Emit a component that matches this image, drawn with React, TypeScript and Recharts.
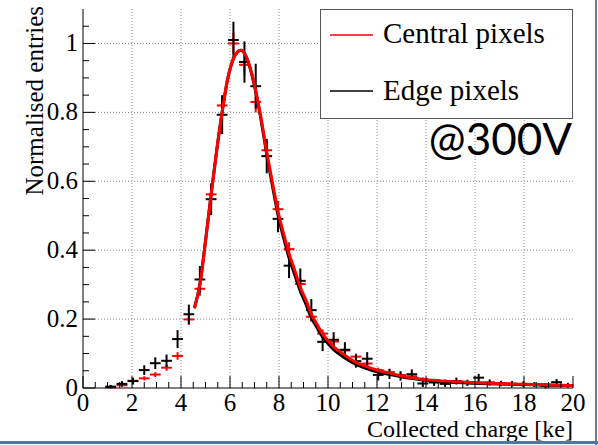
import React from 'react';
import { ComposedChart, Scatter, Line, XAxis, YAxis, CartesianGrid, ErrorBar, Label } from 'recharts';

// bin centres in ke
const BIN_CENTRES = [
  1.13, 1.59, 2.04, 2.5, 2.95, 3.41, 3.86, 4.32, 4.77, 5.23, 5.68, 6.14, 6.59, 7.05,
  7.5, 7.96, 8.41, 8.87, 9.32, 9.78, 10.23, 10.69, 11.14, 11.6, 12.05, 12.51, 12.96,
  13.42, 13.87, 14.33, 14.78, 15.24, 15.69, 16.15, 16.6, 17.06, 17.51, 17.97, 18.42,
  18.88, 19.33, 19.79,
];
const X_HALF_WIDTH = 0.22;

const CENTRAL = [
  0.002, 0.008, 0.021, 0.028, 0.039, 0.059, 0.093, 0.199, 0.288, 0.562, 0.82, 1.0, 0.938,
  0.83, 0.69, 0.519, 0.403, 0.302, 0.207, 0.158, 0.135, 0.109, 0.091, 0.071, 0.052, 0.046,
  0.038, 0.034, 0.026, 0.022, 0.02, 0.017, 0.016, 0.016, 0.014, 0.013, 0.012, 0.012, 0.01,
  0.01, 0.009, 0.008,
];
const CENTRAL_ERR = [
  0.002, 0.004, 0.005, 0.006, 0.007, 0.009, 0.011, 0.016, 0.02, 0.027, 0.03, 0.03, 0.03,
  0.03, 0.027, 0.024, 0.02, 0.017, 0.014, 0.012, 0.011, 0.01, 0.009, 0.008, 0.007, 0.007,
  0.006, 0.006, 0.005, 0.005, 0.005, 0.004, 0.004, 0.004, 0.004, 0.004, 0.003, 0.003,
  0.003, 0.003, 0.003, 0.003,
];

const EDGE = [
  0.004, 0.012, 0.02, 0.052, 0.072, 0.079, 0.142, 0.214, 0.315, 0.548, 0.793, 1.01, 0.946,
  0.876, 0.673, 0.491, 0.355, 0.311, 0.226, 0.134, 0.14, 0.111, 0.078, 0.085, 0.038, 0.041,
  0.035, 0.04, 0.013, 0.016, 0.012, 0.02, 0.015, 0.03, 0.016, 0.013, 0.012, 0.011, 0.01,
  0.006, 0.017, 0.008,
];
const EDGE_ERR = [
  0.005, 0.008, 0.01, 0.014, 0.017, 0.018, 0.026, 0.028, 0.039, 0.046, 0.056, 0.053, 0.06,
  0.065, 0.05, 0.039, 0.036, 0.036, 0.032, 0.027, 0.022, 0.022, 0.019, 0.019, 0.016, 0.015,
  0.014, 0.014, 0.01, 0.01, 0.009, 0.01, 0.009, 0.011, 0.009, 0.008, 0.008, 0.008, 0.007,
  0.007, 0.009, 0.007,
];

// fitted curves
const CENTRAL_FIT_X = [
  4.55, 4.78, 5.0, 5.22, 5.45, 5.69, 5.9, 6.14, 6.3, 6.45, 6.6, 6.8, 7.05, 7.25, 7.5, 7.75,
  7.95, 8.2, 8.41, 8.65, 8.86, 9.1, 9.31, 9.55, 9.77, 10.0, 10.22, 10.45, 10.67, 10.9, 11.13,
  11.58, 12.03, 12.49, 12.94, 13.89, 15.25, 16.6, 17.97, 19.0, 20.0,
];
const CENTRAL_FIT_Y = [
  0.231, 0.303, 0.425, 0.555, 0.685, 0.806, 0.895, 0.956, 0.975, 0.98, 0.97, 0.935, 0.864,
  0.79, 0.685, 0.59, 0.516, 0.445, 0.39, 0.34, 0.294, 0.255, 0.216, 0.185, 0.158, 0.138,
  0.12, 0.107, 0.096, 0.085, 0.075, 0.062, 0.051, 0.044, 0.036, 0.025, 0.018, 0.0135, 0.011,
  0.009, 0.007,
];
const EDGE_FIT_X = [
  4.55, 4.78, 5.0, 5.22, 5.45, 5.69, 5.9, 6.14, 6.3, 6.45, 6.6, 6.8, 7.05, 7.25, 7.5, 7.75,
  7.95, 8.2, 8.41, 8.65, 8.86, 9.1, 9.31, 9.55, 9.77, 10.0, 10.22, 10.45, 10.67, 10.9, 11.13,
  11.58, 12.03, 12.49, 12.94, 13.89, 15.25, 16.6, 17.97, 19.0, 20.0,
];
const EDGE_FIT_Y = [
  0.233, 0.305, 0.427, 0.557, 0.686, 0.806, 0.895, 0.956, 0.975, 0.98, 0.97, 0.933, 0.86,
  0.785, 0.678, 0.58, 0.505, 0.433, 0.378, 0.327, 0.283, 0.243, 0.206, 0.175, 0.149, 0.129,
  0.112, 0.099, 0.088, 0.078, 0.069, 0.056, 0.046, 0.04, 0.033, 0.023, 0.016, 0.012, 0.01,
  0.008, 0.007,
];

const X_MAJOR = [0, 2, 4, 6, 8, 10, 12, 14, 16, 18, 20];
const X_MINOR = [
  0.5, 1, 1.5, 2.5, 3, 3.5, 4.5, 5, 5.5, 6.5, 7, 7.5, 8.5, 9, 9.5, 10.5, 11, 11.5, 12.5, 13,
  13.5, 14.5, 15, 15.5, 16.5, 17, 17.5, 18.5, 19, 19.5,
];
const Y_MAJOR = [0, 0.2, 0.4, 0.6, 0.8, 1];
const Y_MINOR = [0.05, 0.1, 0.15, 0.25, 0.3, 0.35, 0.45, 0.5, 0.55, 0.65, 0.7, 0.75, 0.85, 0.9, 0.95, 1.05];
const X_GRID = [2, 4, 6, 8, 10, 12, 14, 16, 18];
const Y_GRID = [0.2, 0.4, 0.6, 0.8, 1];

const SERIF = "'Liberation Serif', 'DejaVu Serif', serif";
const MAJOR_LEN = 12;
const MINOR_LEN = 6;

const centralPoints = BIN_CENTRES.map((x, i) => ({ x, y: CENTRAL[i], ex: X_HALF_WIDTH, ey: CENTRAL_ERR[i] }));
const edgePoints = BIN_CENTRES.map((x, i) => ({ x, y: EDGE[i], ex: X_HALF_WIDTH, ey: EDGE_ERR[i] }));
const centralFit = CENTRAL_FIT_X.map((x, i) => ({ x, y: CENTRAL_FIT_Y[i] }));
const edgeFit = EDGE_FIT_X.map((x, i) => ({ x, y: EDGE_FIT_Y[i] }));

const tickLen = (v: number, majors: number[]) => (majors.includes(v) ? MAJOR_LEN : MINOR_LEN);

const BottomTick = (props: any) => {
  const { x, y, payload } = props;
  const v = payload.value;
  return (
    <g>
      <line x1={x} y1={y} x2={x} y2={y - tickLen(v, X_MAJOR)} stroke="#000" strokeWidth={1} />
      {X_MAJOR.includes(v) && (
        <text x={x} y={y + 23} textAnchor="middle" fontFamily={SERIF} fontSize={25} fill="#000">
          {v}
        </text>
      )}
    </g>
  );
};

const TopTick = (props: any) => {
  const { x, y, payload } = props;
  return <line x1={x} y1={y} x2={x} y2={y + tickLen(payload.value, X_MAJOR)} stroke="#000" strokeWidth={1} />;
};

const LeftTick = (props: any) => {
  const { x, y, payload } = props;
  const v = payload.value;
  return (
    <g>
      <line x1={x} y1={y} x2={x + tickLen(v, Y_MAJOR)} y2={y} stroke="#000" strokeWidth={1} />
      {Y_MAJOR.includes(v) && (
        <text x={x - 5} y={y + 8} textAnchor="end" fontFamily={SERIF} fontSize={25} fill="#000">
          {v}
        </text>
      )}
    </g>
  );
};

const RightTick = (props: any) => {
  const { x, y, payload } = props;
  return <line x1={x} y1={y} x2={x - tickLen(payload.value, Y_MAJOR)} y2={y} stroke="#000" strokeWidth={1} />;
};

const noShape = () => <g />;

export default function App() {
  return (
    <div style={{ position: 'fixed', left: 0, top: 0, width: 598, height: 445, background: '#fff' }}>
      <ComposedChart width={598} height={445} margin={{ top: 9, right: 25, bottom: 0, left: 0 }}>
        <CartesianGrid
          horizontalValues={Y_GRID}
          verticalValues={X_GRID}
          stroke="#8a8a8a"
          strokeDasharray="1 2"
        />
        <XAxis
          dataKey="x"
          type="number"
          domain={[0, 20]}
          ticks={[...X_MAJOR, ...X_MINOR]}
          interval={0}
          height={57}
          tickSize={0}
          tickMargin={0}
          tickLine={false}
          tick={BottomTick}
          axisLine={{ stroke: '#000' }}
          allowDataOverflow
        >
          <Label
            content={(p: any) => (
              <text
                x={p.viewBox.x + p.viewBox.width}
                y={p.viewBox.y + 49}
                textAnchor="end"
                fontFamily={SERIF}
                fontSize={24}
                fill="#000"
              >
                Collected charge [ke]
              </text>
            )}
          />
        </XAxis>
        <XAxis
          xAxisId="top"
          orientation="top"
          type="number"
          domain={[0, 20]}
          ticks={[...X_MAJOR, ...X_MINOR]}
          interval={0}
          height={0}
          tickSize={0}
          tickMargin={0}
          tickLine={false}
          tick={TopTick}
          axisLine={{ stroke: '#000' }}
          allowDataOverflow
        />
        <YAxis
          dataKey="y"
          type="number"
          domain={[0, 1.1]}
          ticks={[...Y_MAJOR, ...Y_MINOR]}
          interval={0}
          width={83}
          tickSize={0}
          tickMargin={0}
          tickLine={false}
          tick={LeftTick}
          axisLine={{ stroke: '#000' }}
          allowDataOverflow
        >
          <Label
            content={(p: any) => (
              <text
                transform={`translate(${p.viewBox.x + 43}, ${p.viewBox.y - 3}) rotate(-90)`}
                textAnchor="end"
                fontFamily={SERIF}
                fontSize={25}
                fill="#000"
              >
                Normalised entries
              </text>
            )}
          />
        </YAxis>
        <YAxis
          yAxisId="right"
          orientation="right"
          type="number"
          domain={[0, 1.1]}
          ticks={[...Y_MAJOR, ...Y_MINOR]}
          interval={0}
          width={0}
          tickSize={0}
          tickMargin={0}
          tickLine={false}
          tick={RightTick}
          axisLine={{ stroke: '#000' }}
          allowDataOverflow
        />
        <Scatter data={centralPoints} dataKey="y" shape={noShape} isAnimationActive={false}>
          <ErrorBar dataKey="ex" direction="x" width={0} stroke="#ff0000" strokeWidth={2} isAnimationActive={false} />
          <ErrorBar dataKey="ey" direction="y" width={0} stroke="#ff0000" strokeWidth={2} isAnimationActive={false} />
        </Scatter>
        <Scatter data={edgePoints} dataKey="y" shape={noShape} isAnimationActive={false}>
          <ErrorBar dataKey="ex" direction="x" width={0} stroke="#000" strokeWidth={2} isAnimationActive={false} />
          <ErrorBar dataKey="ey" direction="y" width={0} stroke="#000" strokeWidth={2} isAnimationActive={false} />
        </Scatter>
        <Line
          data={edgeFit}
          dataKey="y"
          type="monotone"
          dot={false}
          stroke="#000"
          strokeWidth={3}
          isAnimationActive={false}
        />
        <Line
          data={centralFit}
          dataKey="y"
          type="monotone"
          dot={false}
          stroke="#ff0000"
          strokeWidth={3}
          isAnimationActive={false}
        />
      </ComposedChart>

      <svg width={598} height={445} style={{ position: 'absolute', left: 0, top: 0, pointerEvents: 'none' }}>
        <rect x={320.5} y={9.5} width={252} height={109} fill="#fff" stroke="#555" strokeWidth={1} />
        <line x1={330} y1={35} x2={373} y2={35} stroke="#ff0000" strokeWidth={1.5} />
        <text x={383} y={43} fontFamily={SERIF} fontSize={29} fill="#000">
          Central pixels
        </text>
        <line x1={330} y1={91} x2={373} y2={91} stroke="#000" strokeWidth={1.5} />
        <text x={383} y={100} fontFamily={SERIF} fontSize={29} fill="#000">
          Edge pixels
        </text>
        <text x={572} y={155} textAnchor="end" fontFamily="Lato, 'Open Sans', sans-serif" fontSize={44} fill="#000">
          @300V
        </text>
        <rect x={595} y={0} width={2} height={445} fill="#5a80ad" />
        <rect x={0} y={441} width={598} height={3} fill="#4f77a6" />
      </svg>
    </div>
  );
}
